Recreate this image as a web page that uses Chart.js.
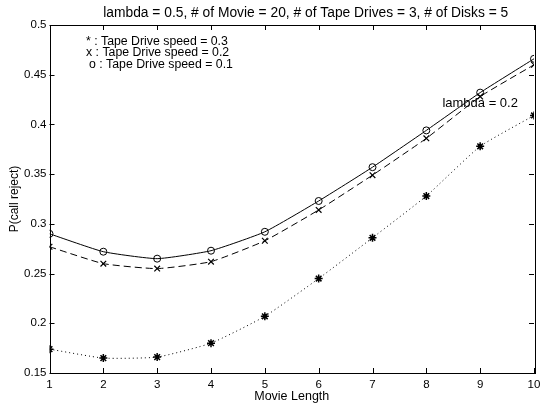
<!DOCTYPE html>
<html>
<head>
<meta charset="utf-8">
<script src="https://cdn.jsdelivr.net/npm/chart.js@4/dist/chart.umd.min.js"></script>
<style>
  html, body { margin: 0; padding: 0; background: #fff; }
  #wrap { width: 541px; height: 404px; }
</style>
</head>
<body>
<div id="wrap"><canvas id="c" width="541" height="404"></canvas></div>
<script>
// ---- data ----
const movieLength = [1, 2, 3, 4, 5, 6, 7, 8, 9, 10];
const speed03 = [0.174, 0.165, 0.166, 0.180, 0.207, 0.245, 0.286, 0.328, 0.378, 0.409]; // '*' dotted
const speed02 = [0.277, 0.260, 0.255, 0.262, 0.283, 0.314, 0.349, 0.386, 0.428, 0.460]; // 'x' dashed
const speed01 = [0.290, 0.272, 0.265, 0.273, 0.292, 0.323, 0.357, 0.394, 0.432, 0.466]; // 'o' solid
const legendLines = [
  ["* : Tape Drive speed = 0.3", 86, 41.5],
  ["x : Tape Drive speed = 0.2", 86, 53],
  ["o : Tape Drive speed = 0.1", 89, 64.5]
];
const chartTitle = "lambda = 0.5, # of Movie = 20, # of Tape Drives = 3, # of Disks = 5";
const annotation = "lambda = 0.2";

const FONT = "'Liberation Sans', Arial, Helvetica, sans-serif";

function pts(ys) { return movieLength.map((x, i) => ({ x: x, y: ys[i] })); }

const boxTicks = {
  id: 'boxTicks',
  afterDatasetsDraw(chart) {
    const { ctx, chartArea: a, scales } = chart;
    ctx.save();
    ctx.strokeStyle = '#000';
    ctx.lineWidth = 1;
    ctx.strokeRect(Math.round(a.left) + 0.5, Math.round(a.top) + 0.5,
                   Math.round(a.right - a.left), Math.round(a.bottom - a.top));
    const L = 5;
    ctx.beginPath();
    scales.x.ticks.forEach(t => {
      const px = Math.round(scales.x.getPixelForValue(t.value)) + 0.5;
      ctx.moveTo(px, a.bottom); ctx.lineTo(px, a.bottom - L);
      ctx.moveTo(px, a.top); ctx.lineTo(px, a.top + L);
    });
    scales.y.ticks.forEach(t => {
      const py = Math.round(scales.y.getPixelForValue(t.value)) + 0.5;
      ctx.moveTo(a.left, py); ctx.lineTo(a.left + L, py);
      ctx.moveTo(a.right, py); ctx.lineTo(a.right - L, py);
    });
    ctx.stroke();
    ctx.fillStyle = '#000';
    ctx.textBaseline = 'middle';
    // title
    ctx.font = '13.8px ' + FONT;
    ctx.textAlign = 'center';
    ctx.fillText(chartTitle, (a.left + a.right) / 2 + 14, 13);
    // legend-like text block
    ctx.font = '12.3px ' + FONT;
    ctx.textAlign = 'left';
    legendLines.forEach(([txt, x, y]) => ctx.fillText(txt, x, y));
    // annotation placed in data coordinates
    ctx.font = '13px ' + FONT;
    ctx.textAlign = 'center';
    ctx.fillText(annotation, scales.x.getPixelForValue(9.0), scales.y.getPixelForValue(0.4215));
    ctx.restore();
  }
};

new Chart(document.getElementById('c'), {
  type: 'line',
  data: {
    datasets: [
      { label: 'speed 0.1', data: pts(speed01), borderColor: '#000', borderWidth: 1,
        pointStyle: 'circle', pointRadius: 3.5, pointBorderWidth: 1, pointBackgroundColor: 'rgba(0,0,0,0)',
        pointBorderColor: '#000', tension: 0.15, fill: false },
      { label: 'speed 0.2', data: pts(speed02), borderColor: '#000', borderWidth: 1, borderDash: [7, 4],
        pointStyle: 'crossRot', pointRadius: 4, pointBorderWidth: 1.2, pointBorderColor: '#000',
        tension: 0.15, fill: false },
      { label: 'speed 0.3', data: pts(speed03), borderColor: '#000', borderWidth: 1, borderDash: [1, 3],
        pointStyle: 'star', pointRadius: 4, pointBorderWidth: 1.5, pointBorderColor: '#000',
        tension: 0.15, fill: false }
    ]
  },
  options: {
    responsive: false,
    animation: false,
    events: [],
    layout: { padding: { left: 0, right: 7, top: 25, bottom: 0 } },
    plugins: {
      legend: { display: false },
      tooltip: { enabled: false },
      title: { display: false }
    },
    scales: {
      x: {
        type: 'linear', min: 1, max: 10,
        ticks: { stepSize: 1, color: '#000', font: { family: FONT, size: 11.5 }, padding: 5, maxRotation: 0 },
        grid: { display: false, drawTicks: false },
        border: { display: false },
        title: { display: true, text: 'Movie Length', color: '#000',
                 font: { family: FONT, size: 12.5 }, padding: { top: 0, bottom: 0 } },
        afterFit(s) { s.height = 31; s.paddingRight = 0; s.paddingLeft = 0; }
      },
      y: {
        min: 0.15, max: 0.5,
        ticks: { stepSize: 0.05, color: '#000', font: { family: FONT, size: 11.5 }, padding: 3,
                 callback: v => String(Math.round(v * 100) / 100) },
        grid: { display: false, drawTicks: false },
        border: { display: false },
        title: { display: true, text: 'P(call reject)', color: '#000',
                 font: { family: FONT, size: 12 }, padding: { top: 7, bottom: 0 } },
        afterFit(s) { s.width = 49.5; }
      }
    }
  },
  plugins: [boxTicks]
});
</script>
</body>
</html>
